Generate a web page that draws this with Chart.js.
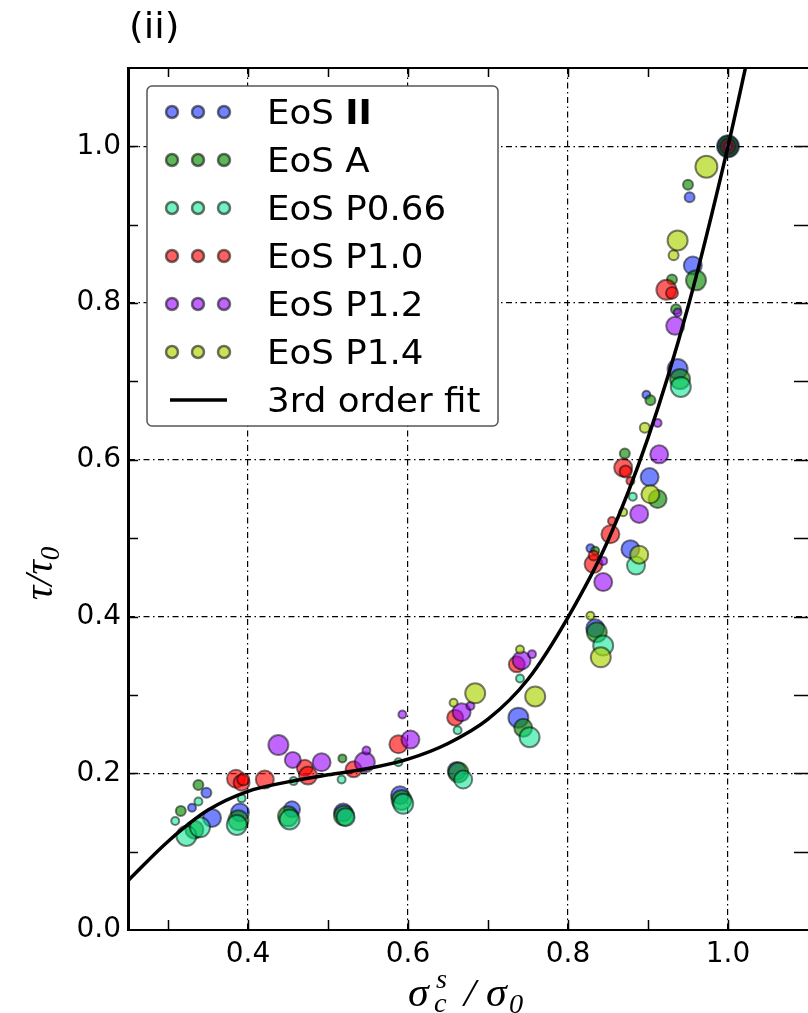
<!DOCTYPE html>
<html lang="en">
<head>
  <meta charset="UTF-8">
  <title>tau / tau_0 against sigma_c^s / sigma_0</title>
  <script src="https://cdn.jsdelivr.net/npm/chart.js"></script>
  <style>
    html, body { margin: 0; padding: 0; background: #fff; }
    #wrap { width: 808px; height: 1013px; }
  </style>
</head>
<body>
  <div id="wrap"><canvas id="chart" width="808" height="1013"></canvas></div>
  <script>
    // series names, as in the legend
    const seriesNames = ['EoS II', 'EoS A', 'EoS P0.66', 'EoS P1.0', 'EoS P1.2', 'EoS P1.4'];

    // EoS II
    const eos2X = [0.330, 0.348, 0.355, 0.390, 0.455, 0.519, 0.590, 0.661, 0.738, 0.828, 0.834, 0.878, 0.902, 0.898, 0.937, 0.956, 0.952, 1.000];
    const eos2Y = [0.156, 0.175, 0.143, 0.150, 0.154, 0.150, 0.172, 0.203, 0.271, 0.487, 0.385, 0.486, 0.578, 0.683, 0.716, 0.848, 0.935, 1.000];
    const eos2R = [4, 5, 9, 9, 8, 9, 9, 9, 10, 4, 9, 9, 9, 4, 10, 9, 5, 11];

    // EoS A
    const eosAX = [0.316, 0.338, 0.333, 0.388, 0.450, 0.518, 0.520, 0.592, 0.663, 0.744, 0.834, 0.836, 0.871, 0.912, 0.903, 0.935, 0.940, 0.930, 0.960, 0.950, 1.000];
    const eosAY = [0.152, 0.185, 0.128, 0.140, 0.145, 0.219, 0.146, 0.166, 0.201, 0.258, 0.484, 0.380, 0.608, 0.550, 0.676, 0.792, 0.703, 0.830, 0.829, 0.951, 1.000];
    const eosAR = [5, 5, 9, 10, 10, 4, 10, 10, 10, 9, 4, 10, 5, 9, 5, 5, 10, 5, 10, 5, 10];

    // EoS P0.66
    const p066X = [0.309, 0.338, 0.323, 0.340, 0.392, 0.386, 0.457, 0.452, 0.517, 0.522, 0.588, 0.594, 0.662, 0.669, 0.740, 0.752, 0.844, 0.881, 0.885, 0.941, 1.000];
    const p066Y = [0.139, 0.164, 0.120, 0.131, 0.168, 0.134, 0.190, 0.141, 0.192, 0.144, 0.214, 0.161, 0.255, 0.192, 0.321, 0.246, 0.363, 0.553, 0.465, 0.693, 1.000];
    const p066R = [4, 4, 10, 10, 4, 10, 4, 10, 4, 9, 4, 10, 4, 9, 4, 10, 10, 4, 9, 10, 8];

    // EoS P1.0
    const p10X = [0.385, 0.392, 0.394, 0.421, 0.471, 0.475, 0.532, 0.588, 0.659, 0.736, 0.832, 0.832, 0.855, 0.853, 0.878, 0.869, 0.872, 0.923, 0.930, 1.000];
    const p10Y = [0.193, 0.188, 0.192, 0.192, 0.207, 0.197, 0.205, 0.237, 0.271, 0.339, 0.467, 0.478, 0.522, 0.505, 0.573, 0.590, 0.585, 0.817, 0.813, 1.000];
    const p10R = [9, 8, 6, 9, 8, 9, 8, 9, 8, 8, 9, 5, 4, 9, 4, 9, 6, 10, 6, 7];

    // EoS P1.2
    const p12X = [0.438, 0.456, 0.492, 0.546, 0.548, 0.593, 0.603, 0.667, 0.678, 0.742, 0.755, 0.844, 0.844, 0.889, 0.914, 0.912, 0.934, 0.937, 1.000];
    const p12Y = [0.236, 0.217, 0.214, 0.214, 0.229, 0.275, 0.243, 0.278, 0.286, 0.344, 0.352, 0.444, 0.471, 0.531, 0.607, 0.647, 0.771, 0.788, 1.000];
    const p12R = [10, 8, 9, 10, 4, 4, 9, 9, 4, 9, 4, 9, 4, 9, 9, 4, 9, 4, 5];

    // EoS P1.4
    const p14X = [0.657, 0.684, 0.740, 0.759, 0.828, 0.841, 0.869, 0.889, 0.903, 0.896, 0.932, 0.937, 0.973, 1.000];
    const p14Y = [0.290, 0.302, 0.358, 0.298, 0.401, 0.348, 0.533, 0.479, 0.556, 0.641, 0.861, 0.880, 0.974, 1.000];
    const p14R = [4, 10, 4, 10, 4, 10, 4, 9, 9, 5, 5, 10, 11, 3];

    // 3rd order fit
    const fitX = [0.25, 0.30, 0.35, 0.40, 0.45, 0.50, 0.55, 0.60, 0.65, 0.70, 0.75, 0.80, 0.85, 0.90, 0.95, 1.00, 1.025];
    const fitY = [0.063, 0.113, 0.153, 0.177, 0.189, 0.198, 0.206, 0.218, 0.238, 0.269, 0.320, 0.399, 0.497, 0.628, 0.795, 1.000, 1.115];

    // axes
    const xTickLabels = [0.4, 0.6, 0.8, 1.0];
    const yTickLabels = [0.0, 0.2, 0.4, 0.6, 0.8, 1.0];
    const xMinorTicks = [0.3, 0.4, 0.5, 0.6, 0.7, 0.8, 0.9, 1.0];
    const yMinorTicks = [0.1, 0.2, 0.3, 0.4, 0.5, 0.6, 0.7, 0.8, 0.9, 1.0];

    const seriesX = [eos2X, eosAX, p066X, p10X, p12X, p14X];
    const seriesY = [eos2Y, eosAY, p066Y, p10Y, p12Y, p14Y];
    const seriesR = [eos2R, eosAR, p066R, p10R, p12R, p14R];
    const seriesFill = [
      'rgba(0, 30, 255, 0.55)',
      'rgba(10, 140, 0, 0.65)',
      'rgba(0, 230, 140, 0.55)',
      'rgba(255, 0, 0, 0.62)',
      'rgba(150, 0, 255, 0.6)',
      'rgba(170, 210, 0, 0.65)'
    ];
    const edgeColor = 'rgba(0, 0, 0, 0.5)';

    const hasLabel = (list, v) => list.some(t => Math.abs(t - v) < 1e-6);
    const gridColor = (list, min, max) => ctx => {
      const v = ctx.tick && ctx.tick.value;
      if (v === undefined) return 'rgba(0,0,0,0)';
      return hasLabel(list, v) && v > min + 1e-6 && v < max - 1e-6 ? '#000' : 'rgba(0,0,0,0)';
    };

    const datasets = [{
      type: 'line',
      label: '3rd order fit',
      data: fitX.map((x, i) => ({ x: x, y: fitY[i] })),
      borderColor: '#000',
      borderWidth: 3.5,
      pointRadius: 0,
      cubicInterpolationMode: 'monotone',
      fill: false,
      order: 0
    }];
    seriesNames.forEach((name, s) => {
      datasets.push({
        type: 'bubble',
        label: name,
        data: seriesX[s].map((x, i) => ({ x: x, y: seriesY[s][i], r: seriesR[s][i] })),
        backgroundColor: seriesFill[s],
        borderColor: edgeColor,
        borderWidth: 2,
        order: 6 - s
      });
    });

    // small text helper: runs of text with own size / offset, stretched a little wide
    function drawRuns(ctx, runs, x, y, stretch) {
      let cx = x;
      runs.forEach(r => {
        ctx.font = r.font;
        ctx.save();
        ctx.translate(cx, y + (r.dy || 0));
        ctx.scale(stretch, 1);
        ctx.fillText(r.t, 0, 0);
        ctx.restore();
        cx += ctx.measureText(r.t).width * stretch;
      });
      return cx - x;
    }

    const decor = {
      id: 'decor',
      afterDraw(chart) {
        const { ctx, chartArea: a, scales: { x, y } } = chart;
        ctx.save();

        // frame (right spine falls just off the picture)
        ctx.strokeStyle = '#000';
        ctx.lineWidth = 2;
        ctx.beginPath();
        ctx.moveTo(a.right, a.top); ctx.lineTo(a.left + 1, a.top);
        ctx.lineTo(a.left + 1, a.bottom); ctx.lineTo(a.right, a.bottom);
        ctx.stroke();

        // inward ticks on all four sides
        ctx.lineWidth = 1.5;
        ctx.beginPath();
        xMinorTicks.forEach(v => {
          const px = Math.round(x.getPixelForValue(v)) + 0.5;
          ctx.moveTo(px, a.bottom); ctx.lineTo(px, a.bottom - 10);
          ctx.moveTo(px, a.top); ctx.lineTo(px, a.top + 9);
        });
        yMinorTicks.forEach(v => {
          const py = Math.round(y.getPixelForValue(v)) + 0.5;
          ctx.moveTo(a.left, py); ctx.lineTo(a.left + 10, py);
          ctx.moveTo(a.right, py); ctx.lineTo(a.right - 14, py);
        });
        ctx.stroke();

        // legend
        const lx = 147, ly = 86, lw = 351, lh = 340;
        ctx.beginPath();
        ctx.roundRect(lx, ly, lw, lh, 5);
        ctx.fillStyle = '#fff';
        ctx.fill();
        ctx.lineWidth = 1.5;
        ctx.strokeStyle = '#555';
        ctx.stroke();

        ctx.fillStyle = '#000';
        ctx.textBaseline = 'alphabetic';
        const rowY = i => 112 + i * 48;
        seriesNames.forEach((name, s) => {
          const cy = rowY(s);
          [172, 198, 224].forEach(mx => {
            ctx.beginPath();
            ctx.arc(mx, cy, 6, 0, Math.PI * 2);
            ctx.fillStyle = '#fff';
            ctx.fill();
            ctx.fillStyle = seriesFill[s];
            ctx.fill();
            ctx.lineWidth = 2.5;
            ctx.strokeStyle = 'rgba(0,0,0,0.55)';
            ctx.stroke();
          });
          ctx.fillStyle = '#000';
          if (s === 0) {
            drawRuns(ctx, [
              { t: 'EoS ', font: '33px "DejaVu Sans"' },
              { t: 'II', font: 'bold 33px "DejaVu Sans"' }
            ], 267, cy + 12, 1.08);
          } else {
            drawRuns(ctx, [{ t: name, font: '33px "DejaVu Sans"' }], 267, cy + 12, 1.08);
          }
        });
        const fy = rowY(6);
        ctx.beginPath();
        ctx.moveTo(170, fy); ctx.lineTo(227, fy);
        ctx.lineWidth = 3.5;
        ctx.strokeStyle = '#000';
        ctx.stroke();
        ctx.fillStyle = '#000';
        drawRuns(ctx, [{ t: '3rd order fit', font: '33px "DejaVu Sans"' }], 267, fy + 12, 1.08);

        // panel label
        drawRuns(ctx, [{ t: '(ii)', font: '35px "DejaVu Sans"' }], 129, 38, 1.08);

        // x axis title: sigma_c^s / sigma_0
        const it = 'italic 40px "Liberation Serif"';
        const itS = 'italic 27px "Liberation Serif"';
        drawRuns(ctx, [{ t: '\u03c3', font: it }], 408, 1006, 1.05);
        drawRuns(ctx, [{ t: 's', font: itS }], 436, 988, 1.05);
        drawRuns(ctx, [{ t: 'c', font: itS }], 434, 1012, 1.05);
        drawRuns(ctx, [{ t: '/', font: it }], 464, 1006, 1.05);
        drawRuns(ctx, [{ t: '\u03c3', font: it }], 486, 1006, 1.05);
        drawRuns(ctx, [{ t: '0', font: itS }], 509, 1013, 1.05);

        // y axis title: tau / tau_0
        ctx.save();
        ctx.translate(52, 566);
        ctx.rotate(-Math.PI / 2);
        drawRuns(ctx, [
          { t: '\u03c4', font: it },
          { t: '/', font: it },
          { t: '\u03c4', font: it },
          { t: '0', font: itS, dy: 7 }
        ], -34, 0, 1.0);
        ctx.restore();

        ctx.restore();
      }
    };

    const tickFont = { family: 'DejaVu Sans', size: 28 };

    new Chart(document.getElementById('chart'), {
      type: 'bubble',
      data: { datasets: datasets },
      options: {
        responsive: false,
        animation: false,
        events: [],
        layout: { autoPadding: false, padding: { top: 68, right: 0, bottom: 0, left: 0 } },
        plugins: {
          legend: { display: false },
          tooltip: { enabled: false }
        },
        scales: {
          x: {
            type: 'linear',
            min: 0.25,
            max: 1.1,
            afterFit(scale) {
              scale.height = 83;
              scale.paddingLeft = 0;
              scale.paddingRight = 0;
            },
            ticks: {
              stepSize: 0.1,
              autoSkip: false,
              maxRotation: 0,
              padding: 8,
              color: '#000',
              font: tickFont,
              callback: v => hasLabel(xTickLabels, v) ? v.toFixed(1) : ''
            },
            grid: { drawTicks: false, lineWidth: 1.2, color: gridColor(xTickLabels, 0.25, 1.1) },
            border: { display: true, color: '#000', width: 2, dash: [6, 3.5, 1.5, 3.5] }
          },
          y: {
            type: 'linear',
            min: 0,
            max: 1.1,
            afterFit(scale) {
              scale.width = 128;
              scale.paddingTop = 0;
              scale.paddingBottom = 0;
            },
            ticks: {
              stepSize: 0.1,
              autoSkip: false,
              padding: 7,
              color: '#000',
              font: tickFont,
              callback: v => hasLabel(yTickLabels, v) ? v.toFixed(1) : ''
            },
            grid: { drawTicks: false, lineWidth: 1.2, color: gridColor(yTickLabels, 0, 1.1) },
            border: { display: true, color: '#000', width: 2, dash: [6, 3.5, 1.5, 3.5] }
          }
        }
      },
      plugins: [decor]
    });
  </script>
</body>
</html>
